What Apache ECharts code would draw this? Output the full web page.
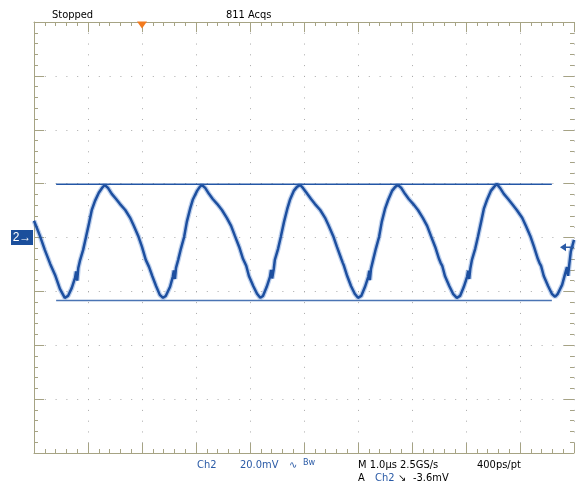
<!DOCTYPE html>
<html>
  <head>
    <meta charset="utf-8" />
    <title>Ch2 waveform</title>
    <style>
      html, body { margin: 0; padding: 0; background: #fff; }
      #scope { width: 577px; height: 485px; }
    </style>
  </head>
  <body>
    <div id="scope"></div>
  </body>
  <script src="https://cdn.jsdelivr.net/npm/echarts@6/dist/echarts.min.js"></script>
  <script>
    // time in us (1.0us/div, trigger at t=0), Ch2 in mV (20.0mV/div)
    var timeUs = [
      -2.00, -1.89, -1.80, -1.70, -1.61, -1.52, -1.43,
      -1.37, -1.30, -1.24, -1.22, -1.20, -1.18, -1.15, -1.09, -1.04, -0.98, -0.93, -0.87, -0.80, -0.74, -0.69,
      -0.63, -0.56, -0.48, -0.41, -0.31, -0.22, -0.15, -0.07, 0.00, 0.07, 0.10, 0.13, 0.19, 0.26, 0.33, 0.39,
      0.44, 0.52, 0.57, 0.59, 0.61, 0.63, 0.67, 0.72, 0.78, 0.83, 0.89, 0.94, 1.02, 1.07, 1.11,
      1.17, 1.24, 1.31, 1.39, 1.48, 1.57, 1.65, 1.72, 1.80, 1.87, 1.90, 1.93, 1.98, 2.06, 2.13, 2.19,
      2.24, 2.31, 2.37, 2.39, 2.41, 2.44, 2.46, 2.52, 2.57, 2.63, 2.69, 2.74, 2.81, 2.87, 2.93,
      2.98, 3.06, 3.13, 3.20, 3.30, 3.39, 3.46, 3.54, 3.61, 3.69, 3.72, 3.74, 3.80, 3.87, 3.94, 4.00,
      4.06, 4.13, 4.19, 4.21, 4.22, 4.24, 4.28, 4.33, 4.39, 4.44, 4.50, 4.56, 4.63, 4.69, 4.74,
      4.80, 4.87, 4.94, 5.02, 5.11, 5.20, 5.28, 5.35, 5.43, 5.50, 5.53, 5.56, 5.61, 5.69, 5.76, 5.83,
      5.89, 5.96, 6.02, 6.04, 6.06, 6.08, 6.11, 6.17, 6.22, 6.28, 6.33, 6.39, 6.46, 6.52, 6.57,
      6.63, 6.70, 6.78, 6.85, 6.94, 7.04, 7.11, 7.19, 7.26, 7.33, 7.36, 7.39, 7.44, 7.52, 7.59, 7.65,
      7.70, 7.78, 7.83, 7.87, 7.89, 7.91, 7.94, 8.00
    ];
    var ch2mV = [
      6.2, 0.6, -4.6, -9.8, -13.9, -19.1, -22.4,
      -21.7, -18.7, -15.0, -12.6, -16.0, -11.3, -8.7, -4.6, -0.1, 5.4, 10.2, 13.6, 16.6, 18.4, 19.5,
      18.4, 16.2, 14.3, 12.5, 10.2, 7.3, 4.3, 0.6, -3.5, -8.3, -9.0, -10.9, -14.3, -18.0, -21.3, -22.4,
      -21.7, -18.3, -14.6, -12.2, -15.4, -11.3, -8.3, -4.2, 0.2, 5.8, 10.6, 14.0, 17.3, 18.8, 19.5,
      18.4, 16.2, 14.3, 12.5, 10.2, 7.3, 4.3, 0.6, -3.5, -7.9, -9.2, -10.5, -14.3, -18.0, -20.9, -22.4,
      -21.7, -18.3, -14.6, -12.0, -15.2, -11.7, -8.3, -4.2, 0.2, 5.8, 10.6, 14.0, 17.3, 18.8, 19.5,
      18.4, 16.2, 14.3, 12.5, 10.2, 7.3, 4.3, 0.6, -3.5, -7.9, -9.5, -10.5, -14.3, -18.0, -20.9, -22.4,
      -21.7, -18.3, -14.6, -12.3, -15.8, -11.7, -8.3, -4.2, 0.2, 5.8, 10.6, 14.0, 17.3, 18.8, 19.5,
      18.4, 16.2, 14.3, 12.5, 10.2, 7.3, 4.3, 0.6, -3.5, -7.9, -9.4, -10.5, -14.3, -18.0, -20.9, -22.4,
      -21.7, -18.3, -14.6, -12.3, -15.4, -11.5, -8.3, -4.2, 0.2, 5.8, 10.6, 14.0, 17.3, 18.8, 19.9,
      18.4, 16.2, 14.3, 12.5, 10.2, 7.3, 4.3, 0.6, -3.5, -7.9, -9.4, -10.5, -14.3, -18.0, -20.9, -22.0,
      -20.9, -17.6, -13.9, -11.0, -14.2, -10.5, -5.3, -0.9
    ];
    // horizontal cursors (mV) and their time span (us)
    var cursorMV = [19.8, -23.4];
    var cursorSpan = [-1.59, 7.59];
    var triggerLevel = -3.6;
    var xRange = [-2, 8];
    var yRange = [-80, 80];

    var frameColor = '#a6a384';
    var dotColor = '#a9a9a9';
    var traceColor = '#1d4f9f';
    var blue = '#2a5aa6';
    var font = '11px "Liberation Sans Narrow", "DejaVu Sans Condensed", sans-serif';

    function buildAxis(range, step, pos, showSplit, dash, showLine) {
      return {
        type: 'value',
        min: range[0],
        max: range[1],
        interval: step,
        position: pos,
        axisLine: { show: showLine, onZero: false, lineStyle: { color: frameColor, width: 1 } },
        axisTick: { show: true, inside: true, length: 10, lineStyle: { color: frameColor } },
        minorTick: { show: true, splitNumber: 5, length: 4, lineStyle: { color: frameColor } },
        axisLabel: { show: false },
        splitLine: { show: showSplit, lineStyle: { color: dotColor, width: 1, type: dash } }
      };
    }

    function pairs(xs, ys) {
      var out = [];
      for (var i = 0; i < xs.length; i++) {
        out.push([xs[i], ys[i]]);
      }
      return out;
    }

    function txt(x, y, text, color, f) {
      return {
        type: 'text', x: x, y: y,
        style: { text: text, fill: color || '#000', font: f || font, align: 'left', verticalAlign: 'middle' }
      };
    }

    var chart = echarts.init(document.getElementById('scope'));
    var wave = pairs(timeUs, ch2mV);

    var option = {
      backgroundColor: '#fff',
      animation: false,
      grid: { left: 34, top: 22, width: 540, height: 431 },
      xAxis: [
        buildAxis(xRange, 1, 'bottom', true, [1, 9.775], true),
        buildAxis(xRange, 1, 'top', false, 'solid', true)
      ],
      yAxis: [
        buildAxis(yRange, 20, 'left', true, [1, 9.8], true),
        buildAxis(yRange, 20, 'right', false, 'solid', false)
      ],
      series: [
        {
          name: 'halo',
          type: 'line',
          data: wave,
          showSymbol: false,
          silent: true,
          lineStyle: { color: 'rgba(70,120,200,0.35)', width: 5 }
        },
        {
          name: 'Ch2',
          type: 'line',
          data: wave,
          showSymbol: false,
          lineStyle: { color: traceColor, width: 2.5 },
          markPoint: {
            silent: true,
            data: [
              {
                coord: [0, yRange[1]], symbol: 'triangle', symbolRotate: 180,
                symbolSize: [10, 7], symbolOffset: [0, 3],
                itemStyle: { color: '#f27a1e' }, label: { show: false }
              },
              {
                coord: [xRange[1], triggerLevel],
                symbol: 'path://M0,5 L6,0 L6,4 L14,4 L14,6 L6,6 L6,10 Z',
                symbolSize: [14, 8], symbolOffset: [-7, 0], symbolKeepAspect: false,
                itemStyle: { color: blue }, label: { show: false }
              },
              {
                coord: [xRange[0], 0], symbol: 'rect', symbolSize: [22, 15], symbolOffset: [-12, 0],
                itemStyle: { color: '#1b4f9c' },
                label: { show: true, position: 'inside', formatter: '2\u2192', color: '#fff', font: font }
              }
            ]
          }
        },
        {
          name: 'cursor1',
          type: 'line',
          data: [[cursorSpan[0], cursorMV[0]], [cursorSpan[1], cursorMV[0]]],
          showSymbol: false,
          lineStyle: { color: '#2356a6', width: 1.5 }
        },
        {
          name: 'cursor2',
          type: 'line',
          data: [[cursorSpan[0], cursorMV[1]], [cursorSpan[1], cursorMV[1]]],
          showSymbol: false,
          lineStyle: { color: '#4a74b4', width: 1.5 }
        }
      ],
      graphic: [
        txt(52, 15, 'Stopped'),
        txt(226, 15, '811 Acqs'),
        txt(197, 465, 'Ch2', blue),
        txt(240, 465, '20.0mV', blue),
        txt(289, 465, '\u223F', blue, '10px "DejaVu Sans", sans-serif'),
        txt(303, 463, 'Bw', blue, '9px "Liberation Sans Narrow", "DejaVu Sans Condensed", sans-serif'),
        txt(358, 465, 'M 1.0\u00b5s 2.5GS/s'),
        txt(477, 465, '400ps/pt'),
        txt(358, 478, 'A'),
        txt(375, 478, 'Ch2', blue),
        txt(398, 478, '\u2198', '#000', '10px "DejaVu Sans", sans-serif'),
        txt(413, 478, '-3.6mV')
      ]
    };
    chart.setOption(option);
  </script>
</html>
